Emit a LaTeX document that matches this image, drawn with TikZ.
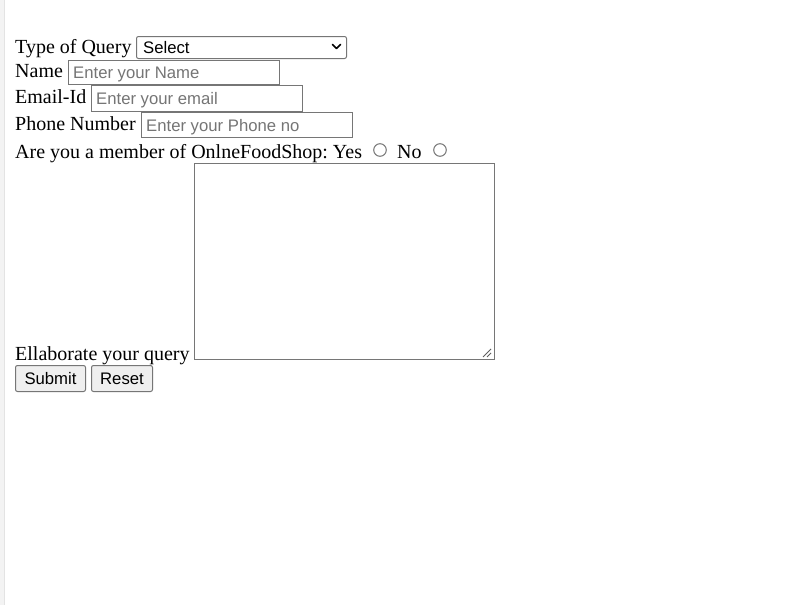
\documentclass[tikz,border=0pt]{standalone}
\usepackage{fontspec}
\setmainfont{Liberation Serif}
\newfontfamily\arialf{Liberation Sans}
\frenchspacing
\definecolor{bordergray}{HTML}{767676}
\definecolor{phgray}{HTML}{757575}
\definecolor{btnfill}{HTML}{EFEFEF}
\definecolor{stripfill}{HTML}{F3F3F3}
\definecolor{stripline}{HTML}{E3E3E3}
\tikzset{
  lbl/.style={anchor=base west, inner sep=0pt, font=\frenchspacing\fontsize{20}{23}\selectfont},
  ph/.style={anchor=base west, inner sep=0pt, text=phgray, font=\arialf\fontsize{16.7}{19}\selectfont},
  ctl/.style={anchor=base west, inner sep=0pt, text=black, font=\arialf\fontsize{16.7}{19}\selectfont},
  fieldbox/.style={draw=bordergray, line width=1pt, fill=white},
  selbox/.style={draw=bordergray, line width=1pt, fill=white, rounded corners=2pt},
  btnbox/.style={draw=bordergray, line width=1pt, fill=btnfill, rounded corners=2pt},
  radio/.style={draw=bordergray, line width=1pt, fill=white},
}
\begin{document}
\begin{tikzpicture}[x=1pt,y=-1pt]
\useasboundingbox (0,0) rectangle (785,605);
\fill[white] (0,0) rectangle (785,605);
% left strip
\fill[stripfill] (0,0) rectangle (4,605);
\draw[stripline, line width=1pt] (4.5,0) -- (4.5,605);

% Type of Query + select
\node[lbl] (tq) at (15,53) {Type of Query};
\draw[selbox] (136.5,36.5) rectangle (346.5,58.5);
\node[ctl] (sel) at (143,53) {Select};
\draw[line width=1.7pt, line cap=round, line join=round] (332.5,44.5) -- (336.5,48.5) -- (340.5,44.5);

% Name
\node[lbl] (nm) at (15,77) {Name};
\draw[fieldbox] (68.5,60.5) rectangle (279.5,84.5);
\node[ph] (nmph) at (73,78) {Enter your Name};

% Email
\node[lbl] (em) at (15,103) {Email-Id};
\draw[fieldbox] (91.5,85.5) rectangle (302.5,111.5);
\node[ph] (emph) at (96,104) {Enter your email};

% Phone
\node[lbl] (ph) at (15,130) {Phone Number};
\draw[fieldbox] (141.5,112.5) rectangle (352.5,137.5);
\node[ph] (phph) at (146,131) {Enter your Phone no};

% Member
\node[lbl] (mem) at (15,158) {Are you a member of OnlneFoodShop: Yes};
\draw[radio] (380,150) circle (6.3);
\node[lbl] (no) at (397,158) {No};
\draw[radio] (440,150) circle (6.3);

% Textarea
\node[lbl] (ell) at (15,360) {Ellaborate your query};
\draw[fieldbox] (194.5,163.5) rectangle (494.5,359.5);
\draw[bordergray!80!black, line width=1pt] (483,357) -- (491,349);
\draw[bordergray!80!black, line width=1pt] (487,357) -- (491,353);

% Buttons
\draw[btnbox] (15.5,365.5) rectangle (85.5,391.5);
\node[ctl, anchor=base] (sub) at (50.5,384) {Submit};
\draw[btnbox] (91.5,365.5) rectangle (152.5,391.5);
\node[ctl, anchor=base] (rst) at (122,384) {Reset};
\end{tikzpicture}
\end{document}
